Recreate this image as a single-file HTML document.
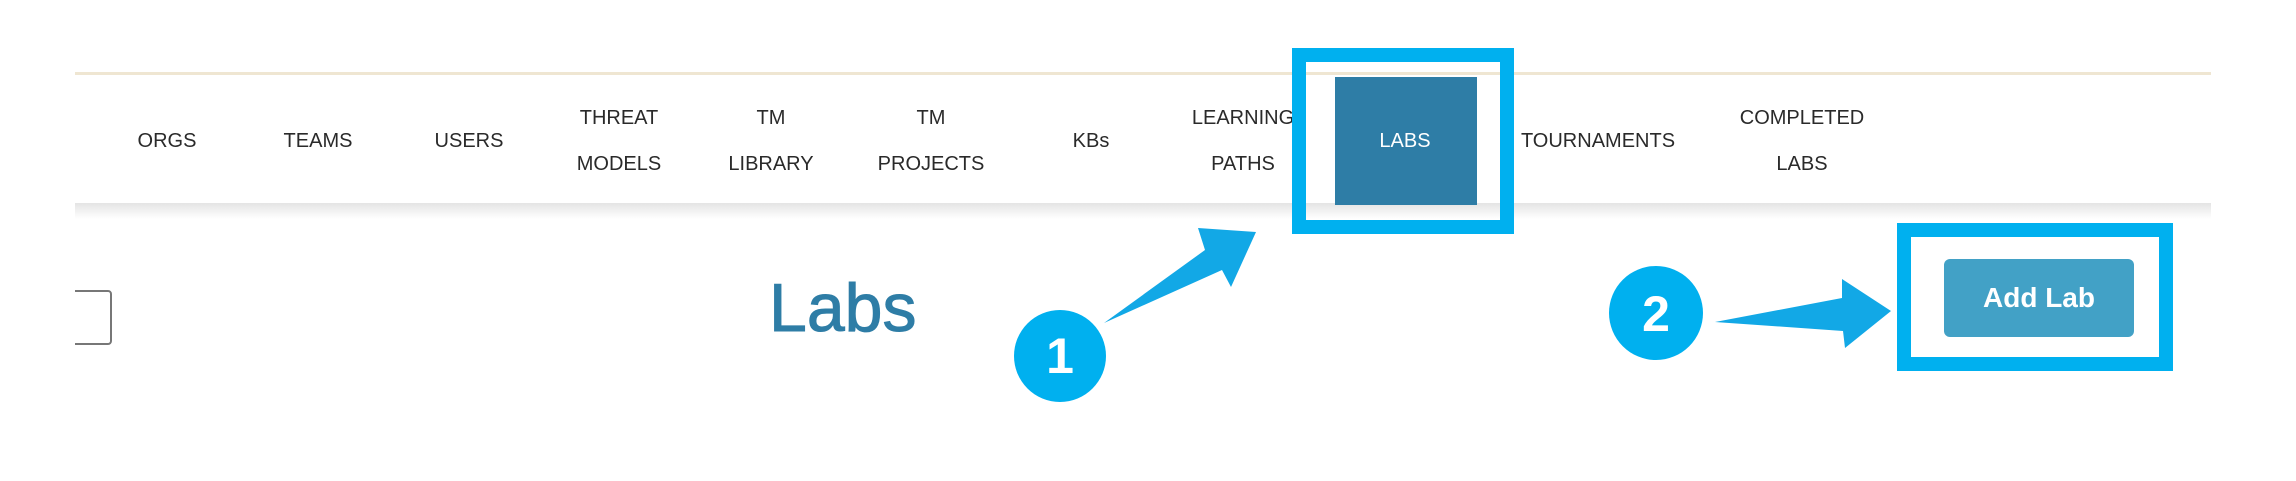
<!DOCTYPE html>
<html><head><meta charset="utf-8"><style>
html,body{margin:0;padding:0;background:#fff;}
body{width:2296px;height:481px;position:relative;overflow:hidden;font-family:"Liberation Sans",sans-serif;}
.t{position:absolute;color:#2a2a2a;font-size:20px;text-align:center;line-height:46px;transform:translateX(-50%);white-space:nowrap;}
</style></head><body>
<div style="position:absolute;left:75px;top:72px;width:2136px;height:3px;background:#efe6d2"></div>
<div style="position:absolute;left:75px;top:203px;width:2136px;height:16px;background:linear-gradient(#e4e4e4,#fff)"></div>
<div class="t" style="left:167px;top:118px">ORGS</div>
<div class="t" style="left:318px;top:118px">TEAMS</div>
<div class="t" style="left:469px;top:118px">USERS</div>
<div class="t" style="left:619px;top:95px">THREAT<br>MODELS</div>
<div class="t" style="left:771px;top:95px">TM<br>LIBRARY</div>
<div class="t" style="left:931px;top:95px">TM<br>PROJECTS</div>
<div class="t" style="left:1091px;top:118px">KBs</div>
<div class="t" style="left:1243px;top:95px">LEARNING<br>PATHS</div>
<div class="t" style="left:1598px;top:118px">TOURNAMENTS</div>
<div class="t" style="left:1802px;top:95px">COMPLETED<br>LABS</div>
<div style="position:absolute;left:1335px;top:77px;width:142px;height:128px;background:#2e7da6"></div>
<div class="t" style="left:1405px;top:118px;color:#fff">LABS</div>
<div style="position:absolute;left:1292px;top:48px;width:194px;height:158px;border:14px solid #00b0ef"></div>
<div style="position:absolute;left:75px;top:285px;width:60px;height:65px;overflow:hidden">
<div style="position:absolute;left:-20px;top:5px;width:53px;height:51px;border:2px solid #777;border-radius:4px"></div>
</div>
<div style="position:absolute;left:769px;top:268px;font-size:68px;color:#2e7da6;line-height:80px;-webkit-text-stroke:1px #2e7da6">Labs</div>
<div style="position:absolute;left:1897px;top:223px;width:248px;height:120px;border:14px solid #00b0ef"></div>
<div style="position:absolute;left:1944px;top:259px;width:190px;height:78px;background:#42a1c6;border-radius:6px;color:#fff;font-size:28px;line-height:78px;text-align:center;font-weight:bold">Add Lab</div>
<svg width="2296" height="481" style="position:absolute;left:0;top:0">
<polygon points="1104,323 1205,250 1198,228 1256,232 1231,287 1222,270" fill="#12a8e6"/>
<polygon points="1715,322 1842,298 1842,279 1891,311 1845,348 1843,331" fill="#12a8e6"/>
<ellipse cx="1060" cy="356" rx="46" ry="46" fill="#00b0ef"/>
<text x="1060" y="373" font-family="Liberation Sans" font-weight="bold" font-size="50" fill="#fff" text-anchor="middle">1</text>
<ellipse cx="1656" cy="313" rx="47" ry="47" fill="#00b0ef"/>
<text x="1656" y="331" font-family="Liberation Sans" font-weight="bold" font-size="50" fill="#fff" text-anchor="middle">2</text>
</svg>
</body></html>
